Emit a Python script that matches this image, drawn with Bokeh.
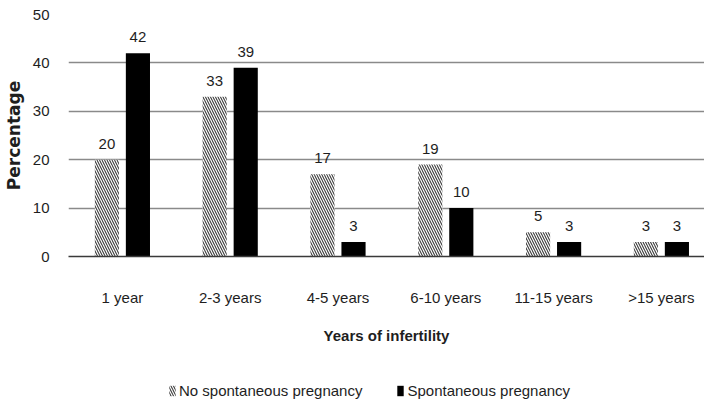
from bokeh.plotting import figure
from bokeh.layouts import column
from bokeh.models import Range1d, FixedTicker, ColumnDataSource, Legend, LegendItem
from bokeh.core.properties import value
from bokeh.transform import dodge
from bokeh.embed import file_html
from bokeh.resources import INLINE

categories = ["1 year", "2-3 years", "4-5 years", "6-10 years", "11-15 years", ">15 years"]
no_spontaneous = [20, 33, 17, 19, 5, 3]
spontaneous = [42, 39, 3, 10, 3, 3]
y_ticks = [0, 10, 20, 30, 40, 50]
series_names = ["No spontaneous pregnancy", "Spontaneous pregnancy"]

FONT = "Liberation Sans"
FS = "15px"
TXT = "#1e1e1e"
HATCH = dict(fill_color="white", line_color=None, hatch_pattern="\\",
             hatch_color="#3c3c3c", hatch_scale=5, hatch_weight=1.1)
SOLID = dict(fill_color="black", line_color=None)

pos = [i + 0.5 for i in range(len(categories))]
src = ColumnDataSource(dict(
    x=pos, cat=categories,
    no=no_spontaneous, sp=spontaneous,
    no_s=[str(v) for v in no_spontaneous], sp_s=[str(v) for v in spontaneous],
))

p = figure(width=704, height=373, x_range=Range1d(0, 5.9), y_range=Range1d(0, 50),
           output_backend="svg", toolbar_location=None,
           min_border_left=59, min_border_right=0, min_border_top=14, min_border_bottom=117)
p.outline_line_color = None
p.background_fill_color = "white"

OFF = 0.144
W = 0.224
p.vbar(x=dodge("x", -OFF, range=p.x_range), top="no", width=W, source=src, **HATCH)
p.vbar(x=dodge("x", OFF, range=p.x_range), top="sp", width=W, source=src, **SOLID)

p.text(x=dodge("x", -OFF, range=p.x_range), y="no", text="no_s", source=src,
       text_font=value(FONT), text_font_size=FS, text_color=TXT,
       text_align="center", text_baseline="alphabetic", y_offset=-16)
p.text(x=dodge("x", OFF, range=p.x_range), y="sp", text="sp_s", source=src,
       text_font=value(FONT), text_font_size=FS, text_color=TXT,
       text_align="center", text_baseline="alphabetic", y_offset=-16)

# x axis
xa = p.xaxis[0]
xa.ticker = FixedTicker(ticks=pos)
xa.major_label_overrides = {p_: c for p_, c in zip(pos, categories)}
xa.major_tick_line_color = None
xa.minor_tick_line_color = None
xa.axis_line_color = "#3a3a3a"
xa.axis_line_width = 1.5
xa.major_label_text_font = FONT
xa.major_label_text_font_size = FS
xa.major_label_text_color = TXT
xa.major_label_standoff = 26
xa.axis_label = "Years of infertility"
xa.axis_label_text_font = FONT
xa.axis_label_text_font_style = "bold"
xa.axis_label_text_font_size = FS
xa.axis_label_text_color = TXT
xa.axis_label_standoff = 18

# y axis
ya = p.yaxis[0]
ya.ticker = FixedTicker(ticks=y_ticks)
ya.axis_line_color = None
ya.major_tick_line_color = None
ya.minor_tick_line_color = None
ya.major_label_text_font = FONT
ya.major_label_text_font_size = FS
ya.major_label_text_color = TXT
ya.major_label_standoff = 13
ya.axis_label = "Percentage"
ya.axis_label_text_font = "DejaVu Sans"
ya.axis_label_text_font_style = "bold"
ya.axis_label_text_font_size = "17px"
ya.axis_label_text_color = TXT
ya.axis_label_standoff = 6

p.xgrid.grid_line_color = None
p.ygrid.grid_line_color = "#8a8a8a"
p.ygrid.grid_line_width = 1.5

# legend strip below the chart (zero-size swatch renderers, only their legend glyphs show)
lg = figure(width=704, height=30, x_range=Range1d(0, 1), y_range=Range1d(0, 1),
            output_backend="svg", toolbar_location=None,
            x_axis_type=None, y_axis_type=None, min_border=0)
lg.outline_line_color = None
lg.grid.visible = False
swatch = ColumnDataSource(dict(x=[0.5], bottom=[0.5], top=[0.5]))
d_no = lg.vbar(x="x", bottom="bottom", top="top", width=0, source=swatch, **HATCH)
d_sp = lg.vbar(x="x", bottom="bottom", top="top", width=0, source=swatch, **SOLID)
legend = Legend(items=[LegendItem(label=series_names[0], renderers=[d_no]),
                       LegendItem(label=series_names[1], renderers=[d_sp])],
                orientation="horizontal", location=(100, 4),
                glyph_width=8, glyph_height=13, label_standoff=3, spacing=34,
                padding=0, margin=0, border_line_color=None, background_fill_alpha=0,
                label_text_font=FONT, label_text_font_size=FS, label_text_color=TXT,
                label_height=13)
lg.add_layout(legend, "center")

layout = column(p, lg, spacing=0)
open("out.html", "w").write(file_html(layout, INLINE))
